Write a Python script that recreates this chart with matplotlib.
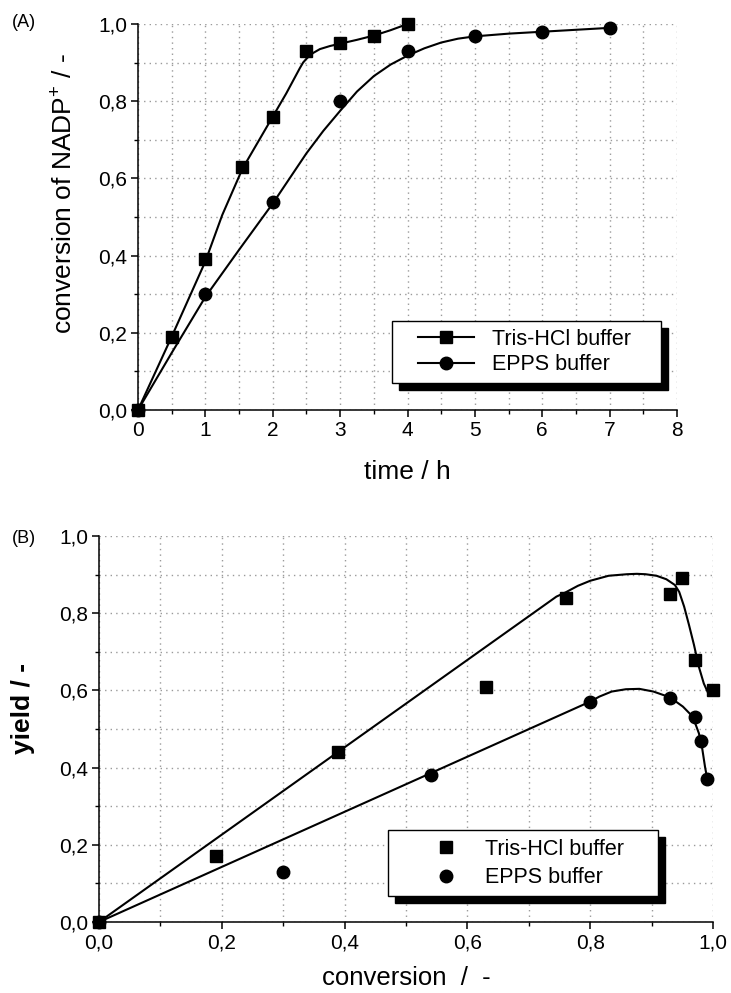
import matplotlib
matplotlib.use("Agg")
import matplotlib.pyplot as plt
from matplotlib.ticker import MultipleLocator, FuncFormatter
from matplotlib.patches import Rectangle
from matplotlib.lines import Line2D
from matplotlib.transforms import IdentityTransform

plt.rcParams['font.family'] = ['Liberation Sans', 'DejaVu Sans']
plt.rcParams['mathtext.fontset'] = 'custom'
plt.rcParams['mathtext.rm'] = 'Liberation Sans'
plt.rcParams['mathtext.default'] = 'regular'

# (A) conversion of NADP+ vs. time
tris_time = [0, 0.5, 1, 1.55, 2, 2.5, 3, 3.5, 4]
tris_conv = [0, 0.19, 0.39, 0.63, 0.76, 0.93, 0.95, 0.97, 1.0]
epps_time = [0, 1, 2, 3, 4, 5, 6, 7]
epps_conv = [0, 0.30, 0.54, 0.80, 0.93, 0.97, 0.98, 0.99]

# smooth curves of panel A
tris_curve_time = [0, 0.5, 1.0, 1.25, 1.55, 1.8, 2.0, 2.2, 2.4, 2.45, 2.5, 2.55, 2.6, 2.65,
                   2.7, 2.85, 3.0, 3.25, 3.5, 3.75, 4.0]
tris_curve_conv = [0, 0.19, 0.385, 0.505, 0.625, 0.70, 0.76, 0.82, 0.885, 0.90, 0.91, 0.918,
                   0.925, 0.93, 0.935, 0.943, 0.949, 0.959, 0.97, 0.984, 1.0]
epps_curve_time = [0, 0.5, 1.0, 1.5, 2.0, 2.25, 2.5, 2.75, 3.0, 3.25, 3.5, 3.75, 4.0, 4.25,
                   4.5, 4.75, 5.0, 5.5, 6.0, 7.0]
epps_curve_conv = [0, 0.148, 0.293, 0.415, 0.535, 0.60, 0.665, 0.723, 0.775, 0.825, 0.865,
                   0.895, 0.918, 0.937, 0.952, 0.962, 0.968, 0.975, 0.98, 0.99]

# (B) yield vs. conversion
tris_x = [0, 0.19, 0.39, 0.63, 0.76, 0.93, 0.95, 0.97, 1.0]
tris_yield = [0, 0.17, 0.44, 0.61, 0.84, 0.85, 0.89, 0.68, 0.60]
epps_x = [0, 0.30, 0.54, 0.80, 0.93, 0.97, 0.98, 0.99]
epps_yield = [0, 0.13, 0.38, 0.57, 0.58, 0.53, 0.47, 0.37]

# fitted curves of panel B
tris_fit_x = [0, 0.745, 0.76, 0.78, 0.80, 0.83, 0.86, 0.876, 0.89, 0.908, 0.924, 0.938, 0.945,
              0.953, 0.961, 0.969, 0.977, 0.985, 0.991]
tris_fit_y = [0, 0.843, 0.854, 0.871, 0.884, 0.897, 0.901, 0.902, 0.901, 0.897, 0.888, 0.873, 0.855,
              0.817, 0.769, 0.718, 0.661, 0.618, 0.597]
epps_fit_x = [0, 0.80, 0.815, 0.835, 0.858, 0.88, 0.903, 0.93, 0.951, 0.967, 0.977, 0.982, 0.987, 0.99]
epps_fit_y = [0, 0.571, 0.584, 0.597, 0.603, 0.604, 0.597, 0.582, 0.558, 0.532, 0.489, 0.454, 0.402, 0.376]

labels = ['Tris-HCl buffer', 'EPPS buffer']

W, H = 731, 993
fig = plt.figure(figsize=(W / 100, H / 100), dpi=100)
axA = fig.add_axes([138 / W, 1 - 410 / H, 539 / W, 386 / H])
axB = fig.add_axes([99 / W, 1 - 922 / H, 614 / W, 386 / H])

comma = FuncFormatter(lambda v, p: f"{v:.1f}".replace('.', ','))
grid_kw = dict(color='#9a9a9a', linestyle=(0, (1, 3)), linewidth=1.0)


def style_axes(ax):
    for s in ['top', 'right']:
        ax.spines[s].set_visible(False)
    for s in ['left', 'bottom']:
        ax.spines[s].set_linewidth(1.1)
    ax.tick_params(which='major', direction='out', length=5, width=1.1, labelsize=15, pad=3)
    ax.tick_params(which='minor', direction='out', length=3, width=1.0)
    ax.grid(True, which='both', **grid_kw)
    ax.set_axisbelow(True)


# panel A
axA.plot(tris_curve_time, tris_curve_conv, color='k', lw=1.5)
axA.plot(epps_curve_time, epps_curve_conv, color='k', lw=1.5)
axA.plot(tris_time, tris_conv, 's', color='k', ms=9, clip_on=False, zorder=3)
axA.plot(epps_time, epps_conv, 'o', color='k', ms=9, clip_on=False, zorder=3)
axA.set_xlim(0, 8)
axA.set_ylim(0, 1.0)
axA.xaxis.set_major_locator(MultipleLocator(1))
axA.xaxis.set_minor_locator(MultipleLocator(0.5))
axA.yaxis.set_major_locator(MultipleLocator(0.2))
axA.yaxis.set_minor_locator(MultipleLocator(0.1))
axA.yaxis.set_major_formatter(comma)
style_axes(axA)
axA.set_xlabel('time / h', fontsize=19)
axA.set_ylabel('conversion of NADP$^{+}$ / -', fontsize=19)
axA.xaxis.set_label_coords(0.5, -0.13)
axA.yaxis.set_label_coords(-0.113, 0.56)

# panel B
axB.plot(tris_fit_x, tris_fit_y, color='k', lw=1.5)
axB.plot(epps_fit_x, epps_fit_y, color='k', lw=1.5)
axB.plot(tris_x, tris_yield, 's', color='k', ms=9, clip_on=False, zorder=3)
axB.plot(epps_x, epps_yield, 'o', color='k', ms=9, clip_on=False, zorder=3)
axB.set_xlim(0, 1.0)
axB.set_ylim(0, 1.0)
for axis in [axB.xaxis, axB.yaxis]:
    axis.set_major_locator(MultipleLocator(0.2))
    axis.set_minor_locator(MultipleLocator(0.1))
    axis.set_major_formatter(comma)
style_axes(axB)
axB.set_xlabel('conversion  /  -', fontsize=18.5)
axB.set_ylabel('yield / -', fontsize=19, fontweight='bold')
axB.xaxis.set_label_coords(0.5, -0.115)
axB.yaxis.set_label_coords(-0.104, 0.554)

fig.text(12 / W, 1 - 14 / H, '(A)', fontsize=13, va='top', ha='left')
fig.text(12 / W, 1 - 530 / H, '(B)', fontsize=13, va='top', ha='left')

# legends
hA = [Line2D([], [], color='k', lw=1.5, marker='s', ms=9),
      Line2D([], [], color='k', lw=1.5, marker='o', ms=9)]
hB = [Line2D([], [], color='k', lw=0, marker='s', ms=9),
      Line2D([], [], color='k', lw=0, marker='o', ms=9)]
legA = axA.legend(hA, labels, loc='upper left', bbox_to_anchor=(0.5195, 0.21), frameon=False,
                  borderpad=0, borderaxespad=0, handlelength=2.6, handletextpad=0.85,
                  labelspacing=0.2, fontsize=15.5)
legB = axB.legend(hB, labels, loc='upper left', bbox_to_anchor=(0.5195, 0.215), frameon=False,
                  borderpad=0, borderaxespad=0, handlelength=2.6, handletextpad=0.5,
                  labelspacing=0.34, fontsize=15.5)
for leg in (legA, legB):
    leg.set_zorder(6)

fig.canvas.draw()
# framed box with offset black shadow around each legend
for ax, leg, (pl, pr, pt, pb) in [(axA, legA, (26, 30, 8, 8)), (axB, legB, (30, 34, 9, 8))]:
    bb = leg.get_window_extent()
    x0, y0 = bb.x0 - pl, bb.y0 - pb
    w, h = bb.width + pl + pr, bb.height + pt + pb
    ax.add_artist(Rectangle((x0 + 7, y0 - 7), w, h, transform=IdentityTransform(),
                            facecolor='k', edgecolor='k', zorder=4, clip_on=False))
    ax.add_artist(Rectangle((x0, y0), w, h, transform=IdentityTransform(),
                            facecolor='white', edgecolor='k', lw=1.0, zorder=5, clip_on=False))

fig.savefig('out.png', dpi=100)
